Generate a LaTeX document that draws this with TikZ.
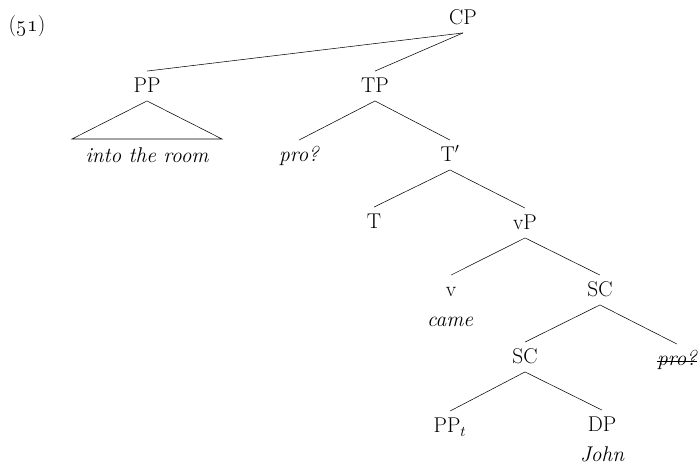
\documentclass[tikz,border=0pt]{standalone}
\usepackage{amsmath}
\usepackage{tikz}
\usetikzlibrary{calc}
\newcommand{\treesize}{0.75pt}

\begin{document}
\begin{tikzpicture}[x=\treesize,y=-\treesize,
	font=\fontsize{16}{19}\selectfont,
	cat/.style={inner xsep=1pt, inner ysep=5pt, text height=11pt, text depth=1pt},
	word/.style={cat, font=\fontsize{16}{19}\selectfont\itshape}]
	\useasboundingbox (0,0) rectangle (699,464);
	\node (ex) at (27,26) {(\oldstylenums{51})};

	\node[cat] (CP) at (463,18) {CP};
	\node[cat] (PP) at (147,86) {PP};
	\node[cat] (TP) at (375,86) {TP};
	\node[word] (pro) at (299,155) {pro?};
	\node[cat] (Tbar) at (450,155) {T$'$};
	\node[cat] (T) at (374,222) {T};
	\node[cat] (vP) at (525,223) {vP};
	\node[cat] (v) at (451,290) {v};
	\node[word] (came) at (450,320) {came};
	\node[cat] (SC) at (600,290) {SC};
	\node[cat] (SCb) at (525,357) {SC};
	\node[word] (prox) at (677,359) {pro?};
	\node[cat] (PPt) at (450,426) {PP$_t$};
	\node[cat] (DP) at (602,425) {DP};
	\node[word] (John) at (602,455) {John};

	% struck-out pro
	\draw ($(prox.base west)+(1pt,3pt)$) -- ($(prox.base east)+(-1pt,3pt)$);

	% triangle under PP
	\coordinate (triL) at (72,139);
	\coordinate (triR) at (222,139);
	\node[word] (room) at (147,156) {into the room};
	\draw (PP.south) -- (triL) -- (triR) -- cycle;

	\draw (CP.south) -- (PP.north);
	\draw (CP.south) -- (TP.north);
	\draw (TP.south) -- (pro.north);
	\draw (TP.south) -- (Tbar.north);
	\draw (Tbar.south) -- (T.north);
	\draw (Tbar.south) -- (vP.north);
	\draw (vP.south) -- (v.north);
	\draw (vP.south) -- (SC.north);
	\draw (SC.south) -- (SCb.north);
	\draw (SC.south) -- (prox.north);
	\draw (SCb.south) -- (PPt.north);
	\draw (SCb.south) -- (DP.north);
\end{tikzpicture}
\end{document}
